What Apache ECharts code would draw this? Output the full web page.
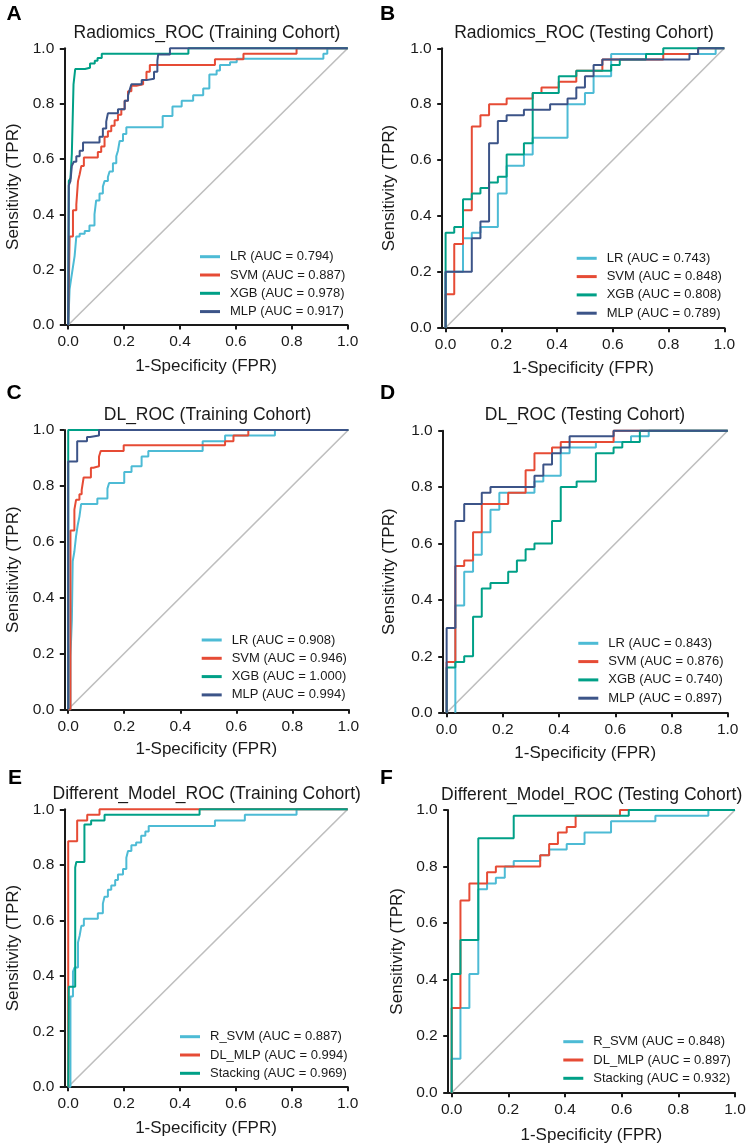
<!DOCTYPE html>
<html><head><meta charset="utf-8">
<script src="https://cdn.jsdelivr.net/npm/echarts@6/dist/echarts.min.js"></script>
<style>html,body{margin:0;padding:0;background:#fff}#c{width:750px;height:1148px}</style>
</head><body><div id="c"></div>
<script>
// ---------- DATA ----------
const axisTicks = [0, 0.2, 0.4, 0.6, 0.8, 1.0];
const panelLetters = ['A', 'B', 'C', 'D', 'E', 'F'];
const panelTitles = [
  'Radiomics_ROC (Training Cohort)', 'Radiomics_ROC (Testing Cohort)',
  'DL_ROC (Training Cohort)', 'DL_ROC (Testing Cohort)',
  'Different_Model_ROC (Training Cohort)', 'Different_Model_ROC (Testing Cohort)'
];
const xAxisName = '1-Specificity (FPR)';
const yAxisName = 'Sensitivity (TPR)';
const diagonal = [[0, 0], [1, 1]];

const A_names = ['LR (AUC = 0.794)', 'SVM (AUC = 0.887)', 'XGB (AUC = 0.978)', 'MLP (AUC = 0.917)'];
const A_LR = [[0,0],[0.005,0.13],[0.011,0.17],[0.017,0.21],[0.023,0.25],[0.029,0.32],[0.041,0.33],[0.059,0.34],[0.076,0.36],[0.094,0.40],[0.10,0.45],[0.112,0.475],[0.124,0.50],[0.13,0.52],[0.142,0.535],[0.148,0.555],[0.16,0.585],[0.172,0.61],[0.178,0.63],[0.184,0.665],[0.196,0.69],[0.208,0.715],[0.338,0.755],[0.373,0.79],[0.406,0.81],[0.447,0.83],[0.483,0.855],[0.505,0.905],[0.531,0.92],[0.543,0.94],[0.579,0.95],[0.603,0.962],[0.913,0.98],[0.927,1.0],[1,1]];
const A_SVM = [[0,0],[0.005,0.32],[0.017,0.415],[0.029,0.435],[0.035,0.52],[0.041,0.545],[0.047,0.575],[0.056,0.605],[0.106,0.625],[0.118,0.645],[0.13,0.68],[0.142,0.70],[0.154,0.72],[0.166,0.74],[0.178,0.76],[0.19,0.78],[0.202,0.81],[0.214,0.845],[0.226,0.865],[0.244,0.87],[0.268,0.885],[0.28,0.915],[0.292,0.94],[0.525,0.96],[0.627,0.98],[0.817,1.0],[1,1]];
const A_XGB = [[0,0],[0.002,0.52],[0.008,0.53],[0.013,0.62],[0.019,0.87],[0.025,0.925],[0.06,0.93],[0.078,0.945],[0.095,0.955],[0.105,0.965],[0.12,0.98],[0.43,1.0],[1,1]];
const A_MLP = [[0,0],[0.002,0.505],[0.008,0.52],[0.013,0.575],[0.02,0.59],[0.029,0.61],[0.041,0.63],[0.053,0.66],[0.112,0.68],[0.124,0.71],[0.136,0.735],[0.142,0.765],[0.178,0.78],[0.202,0.81],[0.214,0.83],[0.22,0.85],[0.226,0.87],[0.263,0.885],[0.28,0.89],[0.307,0.915],[0.319,0.955],[0.322,0.978],[0.364,1.0],[1,1]];

const B_names = ['LR (AUC = 0.743)', 'SVM (AUC = 0.848)', 'XGB (AUC = 0.808)', 'MLP (AUC = 0.789)'];
const B_LR = [[0,0],[0,0.2],[0.0625,0.32],[0.094,0.34],[0.125,0.36],[0.1875,0.48],[0.219,0.58],[0.281,0.62],[0.3125,0.68],[0.4375,0.80],[0.5,0.84],[0.531,0.90],[0.594,0.98],[0.969,1.0],[1,1]];
const B_SVM = [[0,0],[0,0.12],[0.031,0.30],[0.0625,0.42],[0.094,0.72],[0.125,0.76],[0.156,0.80],[0.219,0.82],[0.3125,0.84],[0.344,0.86],[0.406,0.88],[0.469,0.92],[0.5625,0.96],[0.781,0.98],[0.906,1.0],[1,1]];
const B_XGB = [[0,0],[0,0.34],[0.031,0.36],[0.0625,0.46],[0.094,0.48],[0.125,0.50],[0.156,0.52],[0.1875,0.54],[0.219,0.62],[0.281,0.66],[0.3125,0.84],[0.406,0.90],[0.469,0.92],[0.594,0.94],[0.625,0.96],[0.719,0.98],[0.781,1.0],[1,1]];
const B_MLP = [[0,0],[0,0.2],[0.094,0.32],[0.125,0.38],[0.156,0.66],[0.1875,0.74],[0.219,0.76],[0.281,0.78],[0.375,0.80],[0.4375,0.82],[0.469,0.86],[0.5,0.90],[0.531,0.94],[0.5625,0.96],[0.875,0.98],[0.906,1.0],[1,1]];

const C_names = ['LR (AUC = 0.908)', 'SVM (AUC = 0.946)', 'XGB (AUC = 1.000)', 'MLP (AUC = 0.994)'];
const C_LR = [[0,0],[0.008,0.19],[0.013,0.32],[0.016,0.53],[0.022,0.565],[0.028,0.62],[0.034,0.66],[0.04,0.69],[0.046,0.735],[0.104,0.755],[0.14,0.79],[0.146,0.81],[0.2,0.85],[0.226,0.87],[0.262,0.905],[0.286,0.925],[0.48,0.96],[0.56,0.98],[0.738,1.0],[1,1]];
const C_SVM = [[0,0],[0.008,0.64],[0.022,0.715],[0.028,0.75],[0.04,0.77],[0.048,0.785],[0.055,0.83],[0.081,0.865],[0.09,0.87],[0.11,0.905],[0.116,0.925],[0.198,0.945],[0.56,0.96],[0.59,0.98],[0.643,1.0],[1,1]];
const C_XGB = [[0,0],[0,1],[1,1]];
const C_MLP = [[0,0],[0,0.887],[0.032,0.96],[0.067,0.975],[0.078,0.98],[0.11,1.0],[1,1]];

const D_names = ['LR (AUC = 0.843)', 'SVM (AUC = 0.876)', 'XGB (AUC = 0.740)', 'MLP (AUC = 0.897)'];
const D_LR = [[0.031,0],[0.031,0.38],[0.0625,0.50],[0.094,0.56],[0.125,0.64],[0.156,0.72],[0.1875,0.78],[0.3125,0.82],[0.344,0.84],[0.406,0.92],[0.4375,0.94],[0.531,0.96],[0.656,0.98],[0.719,1.0],[1,1]];
const D_SVM = [[0,0],[0,0.18],[0.031,0.52],[0.0625,0.54],[0.094,0.64],[0.125,0.74],[0.219,0.78],[0.281,0.86],[0.3125,0.92],[0.375,0.94],[0.406,0.96],[0.594,1.0],[1,1]];
const D_XGB = [[0,0],[0,0.16],[0.031,0.18],[0.0625,0.20],[0.094,0.34],[0.125,0.44],[0.156,0.46],[0.219,0.50],[0.25,0.54],[0.281,0.58],[0.3125,0.60],[0.375,0.68],[0.406,0.80],[0.4625,0.82],[0.531,0.92],[0.594,0.94],[0.625,0.96],[0.6875,1.0],[1,1]];
const D_MLP = [[0,0],[0,0.30],[0.031,0.68],[0.0625,0.74],[0.125,0.78],[0.156,0.80],[0.3125,0.84],[0.344,0.88],[0.375,0.92],[0.406,0.94],[0.4375,0.98],[0.594,1.0],[1,1]];

const E_names = ['R_SVM (AUC = 0.887)', 'DL_MLP (AUC = 0.994)', 'Stacking (AUC = 0.969)'];
const E_RSVM = [[0,0],[0.008,0.325],[0.017,0.415],[0.023,0.43],[0.035,0.52],[0.041,0.545],[0.047,0.58],[0.056,0.605],[0.106,0.625],[0.124,0.66],[0.13,0.685],[0.142,0.71],[0.154,0.725],[0.168,0.745],[0.178,0.765],[0.196,0.785],[0.208,0.825],[0.214,0.85],[0.226,0.87],[0.243,0.88],[0.261,0.905],[0.276,0.92],[0.288,0.94],[0.525,0.96],[0.632,0.98],[0.817,1.0],[1,1]];
const E_DLMLP = [[0,0],[0,0.885],[0.032,0.96],[0.068,0.98],[0.112,1.0],[1,1]];
const E_Stack = [[0,0],[0.002,0.36],[0.025,0.79],[0.029,0.81],[0.058,0.945],[0.082,0.96],[0.13,0.98],[0.47,1.0],[1,1]];

const F_names = ['R_SVM (AUC = 0.848)', 'DL_MLP (AUC = 0.897)', 'Stacking (AUC = 0.932)'];
const F_RSVM = [[0,0],[0,0.12],[0.031,0.30],[0.0625,0.42],[0.094,0.72],[0.125,0.74],[0.156,0.76],[0.1875,0.80],[0.219,0.82],[0.3125,0.84],[0.344,0.86],[0.406,0.88],[0.469,0.92],[0.5625,0.96],[0.719,0.98],[0.906,1.0],[1,1]];
const F_DLMLP = [[0,0],[0,0.30],[0.031,0.68],[0.0625,0.74],[0.125,0.78],[0.156,0.80],[0.3125,0.84],[0.344,0.88],[0.375,0.92],[0.406,0.94],[0.4375,0.98],[0.594,1.0],[1,1]];
const F_Stack = [[0,0],[0,0.42],[0.031,0.54],[0.094,0.90],[0.219,0.98],[0.625,1.0],[1,1]];

// ---------- STYLE / LAYOUT ----------
const COL4 = ['#4DBBD5', '#E64B35', '#00A087', '#3C5488'];
const COL3 = ['#4DBBD5', '#E64B35', '#00A087'];
const FONT = '"Liberation Sans", Arial, Helvetica, sans-serif';
const INK = '#1a1a1a';

const panels = [
  {names: A_names, curves: [A_LR, A_SVM, A_XGB, A_MLP], colors: COL4},
  {names: B_names, curves: [B_LR, B_SVM, B_XGB, B_MLP], colors: COL4},
  {names: C_names, curves: [C_LR, C_SVM, C_XGB, C_MLP], colors: COL4},
  {names: D_names, curves: [D_LR, D_SVM, D_XGB, D_MLP], colors: COL4},
  {names: E_names, curves: [E_RSVM, E_DLMLP, E_Stack], colors: COL3},
  {names: F_names, curves: [F_RSVM, F_DLMLP, F_Stack], colors: COL3}
];

const layouts = [
  {grid: [64.3, 48.3, 283.4, 276.7], title: [207, 33.5], letter: [6.5, 14], legend: [200, 250.2], yGap: 42, xGap: 33},
  {grid: [441.7, 48.3, 282.6, 279.4], title: [584, 33.5], letter: [380, 14], legend: [576.7, 251.8], yGap: 44, xGap: 32},
  {grid: [64.3, 430, 284, 279.3], title: [207.5, 415.5], letter: [6.5, 393], legend: [201.7, 633.5], yGap: 42, xGap: 32},
  {grid: [442.7, 430.7, 285, 282], title: [585, 415.5], letter: [380, 393], legend: [578.3, 636.8], yGap: 45, xGap: 32},
  {grid: [64.3, 809.3, 283.4, 277.4], title: [206.7, 793.8], letter: [8, 778], legend: [180, 1030.2], yGap: 42, xGap: 33},
  {grid: [447.7, 810, 287.3, 282.7], title: [591.7, 795.5], letter: [380, 778], legend: [563.3, 1035.2], yGap: 42, xGap: 34}
];

const grids = [], xAxes = [], yAxes = [], series = [], legends = [], graphics = [];
const axisLine = {show: true, onZero: false, lineStyle: {color: INK, width: 2}};
const axisTick = {show: true, inside: false, length: 4.5, lineStyle: {color: INK, width: 2}};
const labelStyle = {color: INK, fontSize: 15.5, fontFamily: FONT};

panels.forEach((p, i) => {
  const L = layouts[i];
  grids.push({left: L.grid[0], top: L.grid[1], width: L.grid[2], height: L.grid[3], containLabel: false});
  xAxes.push({
    type: 'value', gridIndex: i, min: -0.014, max: 1,
    axisLine, splitLine: {show: false},
    axisTick: Object.assign({}, axisTick, {customValues: axisTicks}),
    axisLabel: Object.assign({}, labelStyle, {customValues: axisTicks, margin: 9, formatter: v => v.toFixed(1)}),
    name: xAxisName, nameLocation: 'middle', nameGap: L.xGap,
    nameTextStyle: {color: INK, fontSize: 17, fontFamily: FONT}
  });
  yAxes.push({
    type: 'value', gridIndex: i, min: 0, max: 1, interval: 0.2,
    axisLine, splitLine: {show: false}, axisTick,
    axisLabel: Object.assign({}, labelStyle, {margin: 10, formatter: v => v.toFixed(1)}),
    name: yAxisName, nameLocation: 'middle', nameGap: L.yGap,
    nameTextStyle: {color: INK, fontSize: 17, fontFamily: FONT}
  });
  series.push({
    type: 'line', xAxisIndex: i, yAxisIndex: i, data: diagonal, symbol: 'none', silent: true,
    lineStyle: {color: '#BEBEBE', width: 1.6}, animation: false, clip: false, z: 1
  });
  p.curves.forEach((c, k) => {
    series.push({
      type: 'line', name: p.names[k], xAxisIndex: i, yAxisIndex: i, data: c,
      step: 'end', symbol: 'none', showSymbol: false, clip: false, animation: false,
      color: p.colors[k], lineStyle: {color: p.colors[k], width: 2}, z: 2 + k
    });
  });
  legends.push({
    orient: 'vertical', left: L.legend[0], top: L.legend[1], padding: 0,
    icon: 'rect', itemWidth: 20, itemHeight: 3, itemGap: 5.3, selectedMode: false,
    data: p.names,
    textStyle: {color: INK, fontSize: 13, fontFamily: FONT, padding: [0, 0, 0, 5]}
  });
  graphics.push({
    type: 'text', x: L.title[0], y: L.title[1],
    style: {text: panelTitles[i], fill: INK, font: '17.5px ' + FONT, textAlign: 'center', textVerticalAlign: 'middle'}
  });
  graphics.push({
    type: 'text', x: L.letter[0], y: L.letter[1],
    style: {text: panelLetters[i], fill: '#000', font: 'bold 21px ' + FONT, textAlign: 'left', textVerticalAlign: 'middle'}
  });
});

const chart = echarts.init(document.getElementById('c'), null, {renderer: 'canvas'});
chart.setOption({
  backgroundColor: '#ffffff',
  animation: false,
  grid: grids, xAxis: xAxes, yAxis: yAxes, series, legend: legends,
  graphic: graphics
});
</script>
</body></html>
